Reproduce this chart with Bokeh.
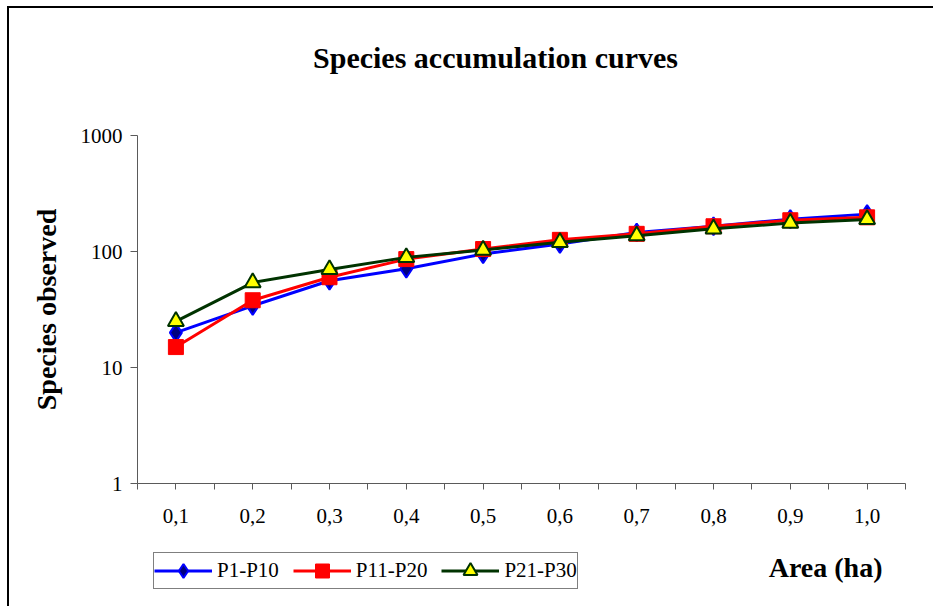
from bokeh.plotting import figure
from bokeh.layouts import column
from bokeh.models import (FixedTicker, CustomJSTickFormatter, Legend, LegendItem,
                          Range1d, Label)
from bokeh.embed import file_html
from bokeh.resources import INLINE

# ---- data ----
area = [0.1, 0.2, 0.3, 0.4, 0.5, 0.6, 0.7, 0.8, 0.9, 1.0]
minor_ticks = [0.05, 0.15, 0.25, 0.35, 0.45, 0.55, 0.65, 0.75, 0.85, 0.95, 1.05]
p1_p10 = [20, 34, 56, 71, 95, 116, 146, 165, 190, 210]
p11_p20 = [15, 38, 60, 86, 105, 126, 142, 165, 186, 197]
p21_p30 = [25, 54, 70, 89, 103, 120, 137, 157, 176, 189]
y_ticks = [1, 10, 100, 1000]
series_names = ["P1-P10", "P11-P20", "P21-P30"]

# ---- styles ----
FONT = "Liberation Serif"
W = 933
TH, MH, BH = 100, 445, 61          # heights of title strip, chart, legend strip
FL, FR = 137, 905                  # frame left/right (px); strips share these edges
FT, FB = 135 - TH, 483 - TH        # frame top/bottom inside the chart figure
colors = ["#0000FF", "#FF0000", "#003300"]
marker_fill = ["#000080", "#FF0000", "#FFFF00"]
markers = ["diamond", "square", "triangle"]
marker_sizes = [18, 15, 16]
marker_line_widths = [2, 1, 2]
axis_color = "#5a5a5a"

LEFT_LINE = "linear-gradient(#000, #000) 7px 0 / 2px 100% no-repeat"
TOP_LINE = "linear-gradient(#000, #000) 7px 6px / 100% 2px no-repeat"


def strip(height):
    f = figure(width=W, height=height, output_backend="svg", toolbar_location=None,
               x_axis_location=None, y_axis_location=None, title=None,
               x_range=Range1d(0, 1), y_range=Range1d(0, 1),
               min_border_left=FL, min_border_right=W - FR,
               min_border_top=0, min_border_bottom=0)
    f.outline_line_color = None
    f.background_fill_color = None
    f.border_fill_color = None
    f.xgrid.visible = False
    f.ygrid.visible = False
    return f


# ---- title strip ----
top = strip(TH)
top.styles = {"background": f"{TOP_LINE}, linear-gradient(#000, #000) 7px 6px / 2px 100% no-repeat, white"}
top.add_layout(Label(x=495 - FL, y=TH - 57, x_units="screen", y_units="screen",
                     text="Species accumulation curves", text_font=FONT,
                     text_font_size="30px", text_font_style="bold", text_color="black",
                     text_align="center", text_baseline="middle"))

# ---- chart ----
p = figure(width=W, height=MH, output_backend="svg", toolbar_location=None,
           y_axis_type="log", title=None,
           x_range=Range1d(0.05, 1.05), y_range=Range1d(1, 1000),
           min_border_left=FL, min_border_right=W - FR,
           min_border_top=FT, min_border_bottom=MH - FB)
p.background_fill_color = "white"
p.border_fill_color = None
p.outline_line_color = None
p.xgrid.visible = False
p.ygrid.visible = False
p.styles = {"background": f"{LEFT_LINE}, white"}

xa = p.xaxis[0]
xa.ticker = FixedTicker(ticks=area, minor_ticks=minor_ticks)
xa.formatter = CustomJSTickFormatter(code="return tick.toFixed(1).replace('.', ',');")
xa.axis_line_color = axis_color
xa.major_tick_line_color = axis_color
xa.minor_tick_line_color = axis_color
xa.minor_tick_out = 6
xa.minor_tick_in = 0
xa.major_tick_out = 6
xa.major_tick_in = 0
xa.major_label_text_font = FONT
xa.major_label_text_font_size = "21px"
xa.major_label_text_color = "black"
xa.major_label_standoff = 19

ya = p.yaxis[0]
ya.ticker = FixedTicker(ticks=y_ticks, minor_ticks=[])
ya.major_label_overrides = {t: str(t) for t in y_ticks}
ya.axis_line_color = axis_color
ya.major_tick_line_color = axis_color
ya.major_tick_out = 7
ya.major_tick_in = 0
ya.minor_tick_line_color = None
ya.major_label_text_font = FONT
ya.major_label_text_font_size = "21px"
ya.major_label_text_color = "black"
ya.major_label_standoff = 8
ya.axis_label = "Species observed"
ya.axis_label_text_font = FONT
ya.axis_label_text_font_size = "28px"
ya.axis_label_text_font_style = "bold"
ya.axis_label_text_color = "black"
ya.axis_label_standoff = 16

series = [p1_p10, p11_p20, p21_p30]
for ys, c, mf, mk, ms, mlw in zip(series, colors, marker_fill, markers, marker_sizes,
                                   marker_line_widths):
    p.line(area, ys, line_color=c, line_width=3)
    p.scatter(area, ys, marker=mk, size=ms, fill_color=mf, line_color=c,
              line_width=mlw)

# ---- legend strip ----
bot = strip(BH)
bot.styles = {"background": f"{LEFT_LINE}, white"}
items = []
for name, ys, c, mf, mk, mlw in zip(series_names, series, colors, marker_fill, markers,
                                    marker_line_widths):
    # legend proxies: same series, but outside this strip's (0..1) view, so only
    # their legend glyphs are seen
    lr = bot.line(area, ys, line_color=c, line_width=3)
    sr = bot.scatter(area, ys, marker=mk, fill_color=mf, line_color=c, line_width=mlw)
    items.append(LegendItem(label=name, renderers=[lr, sr]))

legend = Legend(items=items, orientation="horizontal",
                location=(153 - FL, BH - (589 - (TH + MH))),
                glyph_width=58, glyph_height=35, label_height=21,
                label_standoff=5, spacing=14, padding=0, margin=0,
                label_text_font=FONT, label_text_font_size="21px",
                label_text_color="black",
                border_line_color="black", border_line_width=1,
                background_fill_color="white", background_fill_alpha=1)
bot.add_layout(legend, "center")
bot.add_layout(Label(x=882 - FL, y=BH - (567 - (TH + MH)), x_units="screen",
                     y_units="screen",
                     text="Area (ha)", text_font=FONT, text_font_size="28px",
                     text_font_style="bold", text_color="black",
                     text_align="right", text_baseline="middle"))

layout = column(top, p, bot, spacing=0)
open("out.html", "w").write(file_html(layout, INLINE))
